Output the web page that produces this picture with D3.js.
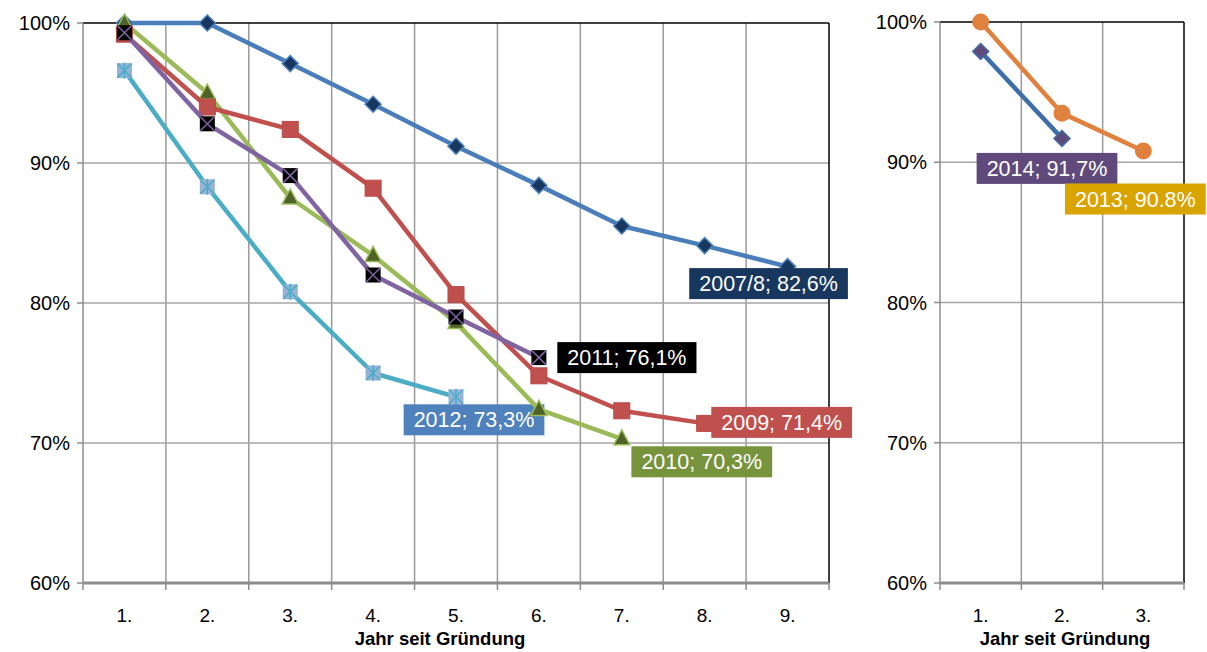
<!DOCTYPE html>
<html>
<head>
<meta charset="utf-8">
<script src="https://cdn.jsdelivr.net/npm/d3@7"></script>
<style>
  body { margin: 0; background: #fff; }
  svg { display: block; font-family: "Liberation Sans", Arial, sans-serif; }
</style>
</head>
<body>
<svg id="chart" width="1207" height="652"></svg>
<script>
// categories
const yearsLeft = ['1.', '2.', '3.', '4.', '5.', '6.', '7.', '8.', '9.']
const yearsRight = ['1.', '2.', '3.']
const yTicks = [0.6, 0.7, 0.8, 0.9, 1.0]

// survival rates per founding cohort
const s2007 = [100, 100, 97.1, 94.2, 91.2, 88.4, 85.5, 84.1, 82.6]
const s2009 = [99.2, 94.0, 92.4, 88.2, 80.6, 74.8, 72.3, 71.4]
const s2010 = [100, 95.0, 87.5, 83.4, 78.6, 72.4, 70.3]
const s2011 = [99.3, 92.8, 89.1, 82.0, 79.0, 76.1]
const s2012 = [96.6, 88.3, 80.8, 75.0, 73.3]
const s2013 = [100, 93.5, 90.8]
const s2014 = [97.9, 91.7]

const labelText = {
  s2007: '2007/8; 82,6%', s2009: '2009; 71,4%', s2010: '2010; 70,3%',
  s2011: '2011; 76,1%', s2012: '2012; 73,3%', s2013: '2013; 90.8%', s2014: '2014; 91,7%'
}

const svg = d3.select('#chart')

function panel(cfg) {
  const x = d3.scaleBand().domain(cfg.cats).range([cfg.x0, cfg.x1])
  const y = d3.scaleLinear().domain([0.6, 1.0]).range([cfg.yb, cfg.yt])
  const g = svg.append('g')

  // vertical grid at band boundaries
  const bounds = cfg.cats.map(c => x(c)).concat([cfg.x1])
  g.selectAll('.vg').data(bounds.slice(1, -1)).enter().append('line')
    .attr('x1', d => d).attr('x2', d => d)
    .attr('y1', cfg.yt).attr('y2', cfg.yb)
    .attr('stroke', '#9a9a9a').attr('stroke-width', 1.5)

  // horizontal grid
  g.selectAll('.hg').data(yTicks.slice(1, -1)).enter().append('line')
    .attr('x1', cfg.x0).attr('x2', cfg.x1)
    .attr('y1', d => y(d)).attr('y2', d => y(d))
    .attr('stroke', '#a6a6a6').attr('stroke-width', 1.5)

  // frame
  g.append('line').attr('x1', cfg.x0).attr('x2', cfg.x1).attr('y1', cfg.yt).attr('y2', cfg.yt)
    .attr('stroke', '#000').attr('stroke-width', 1.5)
  g.append('line').attr('x1', cfg.x1).attr('x2', cfg.x1).attr('y1', cfg.yt).attr('y2', cfg.yb)
    .attr('stroke', '#000').attr('stroke-width', 1.5)
  g.append('line').attr('x1', cfg.x0).attr('x2', cfg.x0).attr('y1', cfg.yt).attr('y2', cfg.yb)
    .attr('stroke', '#8c8c8c').attr('stroke-width', 1.5)

  // y ticks
  g.selectAll('.yt').data(yTicks).enter().append('line')
    .attr('x1', cfg.x0 - 6).attr('x2', cfg.x0)
    .attr('y1', d => y(d)).attr('y2', d => y(d))
    .attr('stroke', '#8c8c8c').attr('stroke-width', 1.5)
  g.selectAll('.yl').data(yTicks).enter().append('text')
    .attr('x', cfg.x0 - 13).attr('y', d => y(d) + 7)
    .attr('text-anchor', 'end').style('font-size', '20px').attr('fill', '#000')
    .text(d => d3.format('.0%')(d))

  // x axis
  g.append('line').attr('x1', cfg.x0).attr('x2', cfg.x1).attr('y1', cfg.yb).attr('y2', cfg.yb)
    .attr('stroke', '#8c8c8c').attr('stroke-width', 3)
  g.selectAll('.xt').data(bounds).enter().append('line')
    .attr('x1', d => d).attr('x2', d => d)
    .attr('y1', cfg.yb).attr('y2', cfg.yb + 7)
    .attr('stroke', '#8c8c8c').attr('stroke-width', 1.5)
  g.selectAll('.xl').data(cfg.cats).enter().append('text')
    .attr('x', d => x(d) + x.bandwidth() / 2).attr('y', cfg.yb + 39)
    .attr('text-anchor', 'middle').style('font-size', '19px')
    .text(d => d)
  g.append('text')
    .attr('x', cfg.titleX).attr('y', 645)
    .attr('text-anchor', 'middle').style('font-size', '18.5px').style('font-weight', 'bold')
    .text('Jahr seit Gründung')

  return { x, y, g }
}

const left = panel({ cats: yearsLeft, x0: 83, x1: 829, yt: 23, yb: 583, titleX: 440 })
const right = panel({ cats: yearsRight, x0: 940, x1: 1184, yt: 22, yb: 583, titleX: 1065 })

const series = [
  { p: left, key: 's2007', vals: s2007, line: '#4a7ebb', marker: 'diamond', fill: '#17375e', mstroke: '#4a7ebb', bg: '#17375e', dx: -19, dy: 17 },
  { p: left, key: 's2012', vals: s2012, line: '#4bacc6', marker: 'star', fill: '#95b3d7', mstroke: '#4bacc6', bg: '#4f81bd', dx: 18, dy: 23 },
  { p: left, key: 's2010', vals: s2010, line: '#9bbb59', marker: 'triangle', fill: '#4f6228', mstroke: '#9bbb59', bg: '#77933c', dx: 80, dy: 23 },
  { p: left, key: 's2009', vals: s2009, line: '#c0504d', marker: 'square', fill: '#c0504d', mstroke: '#c0504d', bg: '#c0504d', dx: 77, dy: -1 },
  { p: left, key: 's2011', vals: s2011, line: '#8064a2', marker: 'xsquare', fill: '#000', mstroke: '#8064a2', bg: '#000', dx: 88, dy: 0 },
  { p: right, key: 's2014', vals: s2014, line: '#3e6ea8', marker: 'diamond', fill: '#604a7b', mstroke: '#3e6ea8', bg: '#604a7b', dx: -15, dy: 30 },
  { p: right, key: 's2013', vals: s2013, line: '#e0823d', marker: 'circle', fill: '#e0823d', mstroke: '#e0823d', bg: '#d9a300', dx: -8, dy: 48 }
]

series.forEach(s => {
  const { x, y, g } = s.p
  const cats = x.domain()
  const pts = s.vals.map((v, i) => [x(cats[i]) + x.bandwidth() / 2, y(v / 100)])
  g.append('path').datum(pts)
    .attr('d', d3.line())
    .attr('fill', 'none').attr('stroke', s.line).attr('stroke-width', 4.5)
    .attr('stroke-linejoin', 'round')

  const m = g.selectAll('.m' + s.key).data(pts).enter().append('g')
    .attr('transform', d => `translate(${d[0]},${d[1]})`)
  if (s.marker === 'diamond') {
    m.append('path').attr('d', 'M0,-8L8,0L0,8L-8,0Z')
      .attr('fill', s.fill).attr('stroke', s.mstroke).attr('stroke-width', 1.5)
  } else if (s.marker === 'square') {
    m.append('rect').attr('x', -8).attr('y', -8).attr('width', 16).attr('height', 16)
      .attr('fill', s.fill).attr('stroke', '#b84a47').attr('stroke-width', 1)
  } else if (s.marker === 'xsquare') {
    m.append('rect').attr('x', -7.5).attr('y', -7.5).attr('width', 15).attr('height', 15).attr('fill', s.fill)
    m.append('path').attr('d', 'M-7,-7L7,7M-7,7L7,-7').attr('stroke', s.mstroke).attr('stroke-width', 1.5)
  } else if (s.marker === 'star') {
    m.append('rect').attr('x', -7.5).attr('y', -7.5).attr('width', 15).attr('height', 15).attr('fill', s.fill)
    m.append('path').attr('d', 'M-7,-7L7,7M-7,7L7,-7M0,-8L0,8').attr('stroke', s.mstroke).attr('stroke-width', 1.5)
  } else if (s.marker === 'triangle') {
    m.append('path').attr('d', 'M0,-9L8,6L-8,6Z')
      .attr('fill', s.fill).attr('stroke', s.mstroke).attr('stroke-width', 1.5)
  } else if (s.marker === 'circle') {
    m.append('circle').attr('r', 8.5).attr('fill', s.fill)
  }

  // data label on last point
  const last = pts[pts.length - 1]
  const lg = g.append('g').attr('transform', `translate(${last[0] + s.dx},${last[1] + s.dy})`)
  const rect = lg.append('rect').attr('fill', s.bg)
  const t = lg.append('text').attr('text-anchor', 'middle').attr('y', 7.5)
    .style('font-size', '21.5px').attr('fill', '#fff').text(labelText[s.key])
  const w = t.node().getComputedTextLength() + 20
  rect.attr('x', -w / 2).attr('y', -15.5).attr('width', w).attr('height', 31)
})
</script>
</body>
</html>
